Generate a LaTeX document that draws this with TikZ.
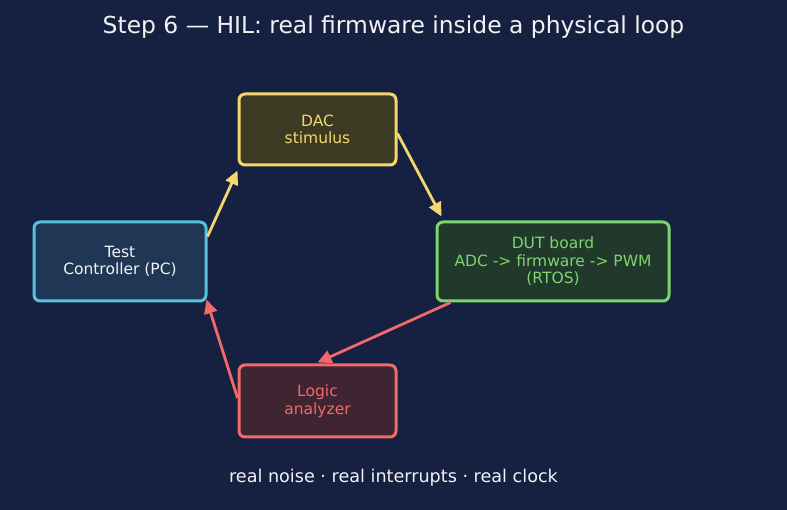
\documentclass[tikz,border=0pt]{standalone}
\usepackage{fontspec}
\setmainfont{DejaVu Sans}
\usetikzlibrary{arrows.meta}
\definecolor{bgnavy}{HTML}{162142}
\definecolor{yelline}{HTML}{F5D76E}
\definecolor{yelfill}{HTML}{3D3A24}
\definecolor{cyanline}{HTML}{56C2DE}
\definecolor{cyanfill}{HTML}{1F3754}
\definecolor{grnline}{HTML}{7ED56F}
\definecolor{grnfill}{HTML}{21392B}
\definecolor{redline}{HTML}{F06A6A}
\definecolor{redfill}{HTML}{3F2431}
\definecolor{txtwhite}{HTML}{F2F2F2}

\begin{document}
\begin{tikzpicture}[x=1pt,y=1pt,
    box/.style={draw,line width=3pt,rounded corners=6pt,align=center,
      inner sep=0pt,font=\fontsize{15.5}{17.5}\selectfont},
    arr/.style={line width=2.8pt,-{Triangle[length=14pt,width=13pt]}}]
        \fill [color=bgnavy] (0,0) rectangle (787,510);
        \useasboundingbox (0,0) rectangle (787,510);
        % title and footer
        \node (title) [text=txtwhite,font=\fontsize{23.4}{28}\selectfont] at (393.5,483) {Step 6 — HIL: real firmware inside a physical loop};
        \node (foot) [text=txtwhite,font=\fontsize{17.6}{21}\selectfont] at (393.5,32) {real noise · real interrupts · real clock};
        % the four stations
        \node (dac) [box,color=yelline,fill=yelfill,text=yelline,minimum width=157pt,minimum height=71pt] at (317.5,380.5) {DAC\\stimulus};
        \node (ctrl) [box,color=cyanline,fill=cyanfill,text=txtwhite,minimum width=172pt,minimum height=79pt] at (120,248.5) {Test\\Controller (PC)};
        \node (dut) [box,color=grnline,fill=grnfill,text=grnline,minimum width=232pt,minimum height=79pt] at (553,248.5) {DUT board\\ADC -> firmware -> PWM\\(RTOS)};
        \node (logic) [box,color=redline,fill=redfill,text=redline,minimum width=157pt,minimum height=72pt] at (317.5,109) {Logic\\analyzer};
        % the loop
        \draw [arr,color=yelline] ([yshift=25pt]ctrl.east) -- ([yshift=-4pt]dac.south west);
        \draw [arr,color=yelline] ([yshift=-4pt]dac.east) -- ([xshift=6pt,yshift=4pt]dut.north west);
        \draw [arr,color=redline] ([xshift=15pt]dut.south west) -- ([yshift=1pt]logic.north);
        \draw [arr,color=redline] ([yshift=3pt]logic.west) -- ([xshift=-1pt,yshift=3pt]ctrl.south east);
\end{tikzpicture}
\end{document}
